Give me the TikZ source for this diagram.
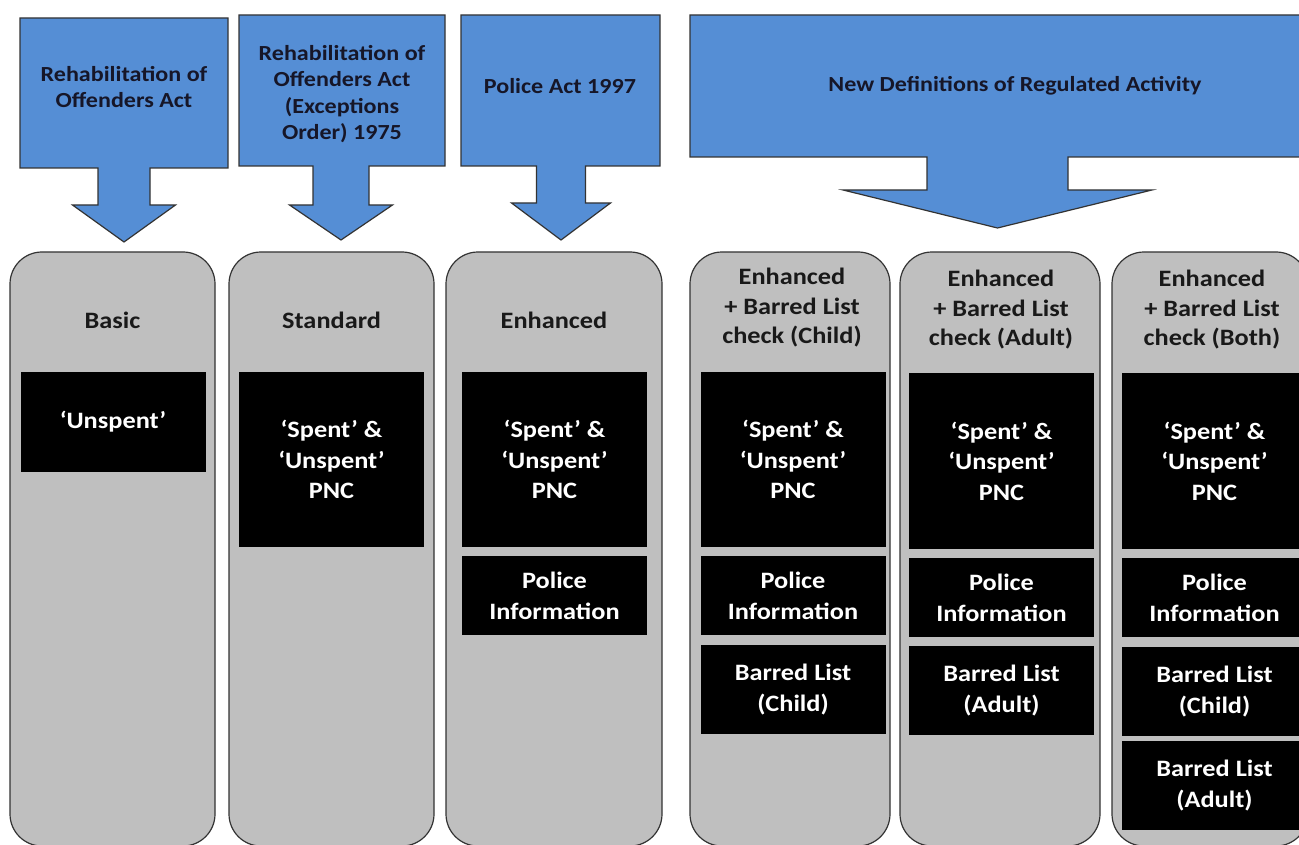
\documentclass[tikz,border=0pt]{standalone}
\usepackage{fontspec}
\setmainfont{Carlito}[FakeStretch=1.12]
\usetikzlibrary{positioning}
\definecolor{actblue}{RGB}{85,142,213}
\definecolor{panelgray}{RGB}{191,191,191}
\definecolor{acttext}{RGB}{22,22,40}
\tikzset{
    actshape/.style={fill=actblue,draw=black!80,line width=1.2pt,line join=miter},
    acttitle/.style={align=center,text=acttext,inner sep=0pt,font=\fontsize{21.5}{26.5}\selectfont\bfseries},
    panel/.style={fill=panelgray,draw=black!80,line width=1.2pt,rounded corners=32pt,minimum height=594pt},
    paneltitle/.style={align=center,text=black!90,inner sep=0pt,font=\fontsize{23.5}{29.5}\selectfont\bfseries},
    infobox/.style={fill=black,text=white,align=center,inner sep=0pt,minimum width=185pt,font=\fontsize{23.5}{30.5}\selectfont\bfseries},
}

\begin{document}
\begin{tikzpicture}[x=1pt,y=-1pt]
    \useasboundingbox (0,0) rectangle (1299,845);
    % acts with their down arrows
    \foreach \xl/\yt/\xr/\yb/\xc/\sw/\hw/\hy/\ty in {
        20/18/228/168/124/26/51.5/205/242,
        239/15/445/166/341/28/51.5/205/240,
        461/15/660/166/561/24.5/49.5/203/240,
        690/15/1340/157/997.5/70.5/154.5/190/228}
        \draw[actshape] (\xl,\yt) -- (\xr,\yt) -- (\xr,\yb) -- ({\xc+\sw},\yb) -- ({\xc+\sw},\hy)
            -- ({\xc+\hw},\hy) -- (\xc,\ty) -- ({\xc-\hw},\hy) -- ({\xc-\sw},\hy)
            -- ({\xc-\sw},\yb) -- (\xl,\yb) -- cycle;
    \node[acttitle] (roa) at (124,87) {Rehabilitation of\\Offenders Act};
    \node[acttitle] (roaeo) at (342,94) {Rehabilitation of\\Offenders Act\\(Exceptions\\Order) 1975};
    \node[acttitle] (police) at (560,86) {Police Act 1997};
    \node[acttitle] (newdef) at (1015,86) {New Definitions of Regulated Activity};

    % check levels
    \foreach \n/\x/\w in {1/112.5/205,2/331.5/205,3/554/216,4/790/200,5/1000/200,6/1210/196}
        \node[panel,minimum width=\w pt] (p\n) at (\x,549) {};
    \node[paneltitle] (basic) at (112.5,320) {Basic};
    \node[paneltitle] (standard) at (331.5,320) {Standard};
    \node[paneltitle] (enhanced) at (554,320) {Enhanced};
    \node[paneltitle] (ebchild) at (792,308) {Enhanced\\+ Barred List\\check (Child)};
    \node[paneltitle] (ebadult) at (1001,310) {Enhanced\\+ Barred List\\check (Adult)};
    \node[paneltitle] (ebboth) at (1212,310) {Enhanced\\+ Barred List\\check (Both)};

    % what each check discloses
    \node[infobox,minimum height=100pt] (unspent1) at (113,422) {‘Unspent’};
    \node[infobox,minimum height=175pt] (pnc2) at (331.5,459.5) {‘Spent’ \&\\‘Unspent’\\PNC};
    \node[infobox,minimum height=175pt] (pnc3) at (554.5,459.5) {‘Spent’ \&\\‘Unspent’\\PNC};
    \node[infobox,minimum height=79pt,below=9pt of pnc3] (info3) {Police\\Information};
    \node[infobox,minimum height=175pt] (pnc4) at (793,459.5) {‘Spent’ \&\\‘Unspent’\\PNC};
    \node[infobox,minimum height=79pt,below=9pt of pnc4] (info4) {Police\\Information};
    \node[infobox,minimum height=89pt,below=9pt of info4] (child4) {Barred List\\(Child)};
    \node[infobox,minimum height=176pt] (pnc5) at (1001.5,461) {‘Spent’ \&\\‘Unspent’\\PNC};
    \node[infobox,minimum height=79pt,below=9pt of pnc5] (info5) {Police\\Information};
    \node[infobox,minimum height=89pt,below=8pt of info5] (adult5) {Barred List\\(Adult)};
    \node[infobox,minimum height=176pt] (pnc6) at (1214.5,461) {‘Spent’ \&\\‘Unspent’\\PNC};
    \node[infobox,minimum height=79pt,below=9pt of pnc6] (info6) {Police\\Information};
    \node[infobox,minimum height=89pt,below=9pt of info6] (child6) {Barred List\\(Child)};
    \node[infobox,minimum height=89pt,below=5pt of child6] (adult6) {Barred List\\(Adult)};
\end{tikzpicture}
\end{document}
